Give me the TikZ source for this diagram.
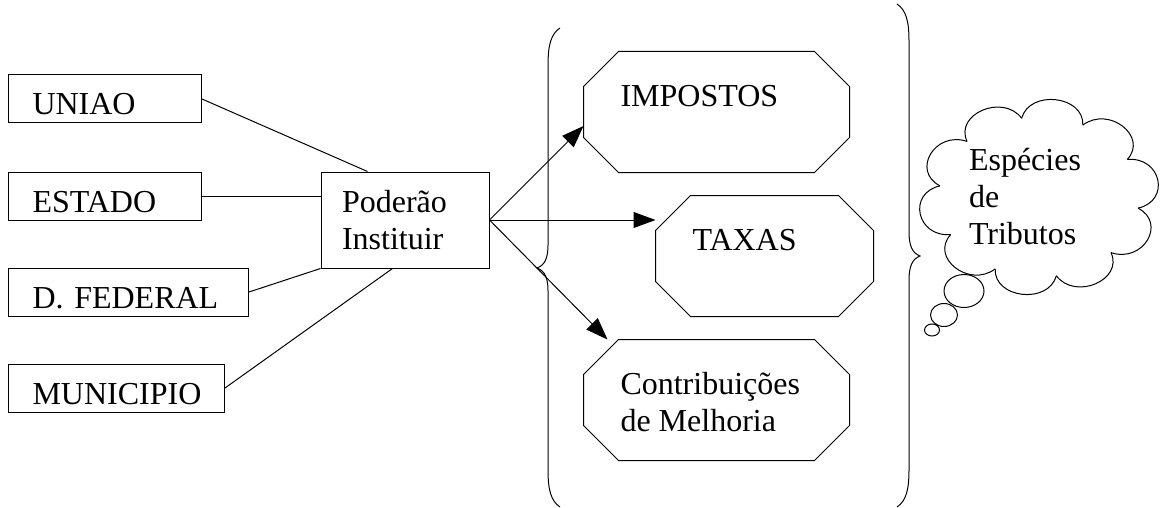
\documentclass[tikz,border=0pt]{standalone}
\usepackage{fontspec}
\setmainfont{Liberation Serif}
\usetikzlibrary{arrows.meta, positioning, calc}

\begin{document}
\begin{tikzpicture}[x=1pt, y=-1pt, line width=1pt, >={Triangle[length=22pt,width=16pt]}, font=\fontsize{32}{37}\selectfont]

%====Stili=====================================================================

	\tikzstyle{ente}=[draw, anchor=west, align=left, text height=32pt, text depth=0pt, inner xsep=24pt, inner ysep=0pt, minimum height=48pt]
  	\tikzstyle{specie}=[rectangle, minimum width=265pt, minimum height=120pt, inner sep=0pt]
  	\tikzstyle{testo}=[inner sep=0pt, align=left]

	\useasboundingbox (0,0) rectangle (1161,508);

%====Enti e potere============================================================
	\node[ente, text width=145pt] 	(uniao)  at (8,99)  	{UNIAO};
	\node[ente, text width=145pt] 	(estado) at (8,196) 	{ESTADO};
	\node[ente, text width=192pt] 	(dfed)   at (8,292) 	{D. FEDERAL};
	\node[ente, text width=168pt] 	(munic)  at (8,388) 	{MUNICIPIO};
	\node[draw, text width=126pt, align=left, minimum width=168pt, minimum height=96pt] (poder) at (405,220) {Poderão\\Instituir};

%====Specie di tributi (ottagoni)===============================================
	\node[specie] 					(imp) at (716.5,112) 	{};
	\node[specie, minimum width=217pt] (tax) at (764.5,256) {};
	\node[specie] 					(con) at (716.5,400) 	{};
	\foreach \n in {imp,tax,con}
		\draw ([xshift=35pt]\n.north west) -- ([xshift=-35pt]\n.north east) -- ([yshift=-35pt]\n.north east)
			-- ([yshift=35pt]\n.south east) -- ([xshift=-35pt]\n.south east) -- ([xshift=35pt]\n.south west)
			-- ([yshift=35pt]\n.south west) -- ([yshift=-35pt]\n.north west) -- cycle;
	\node[testo, anchor=base west] 	(timp) at (620,107) 	{IMPOSTOS};
	\node[testo, anchor=base west] 	(ttax) at (692,250) 	{TAXAS};
	\node[testo, anchor=north west] (tcon) at (620,372) 	{Contribuições\\de Melhoria};

%====Collegamenti==============================================================
	\draw (uniao.east) -- ([xshift=47pt]poder.north west);
	\draw (estado.east) -- (estado.east -| poder.west);
	\draw (dfed.east) -- (poder.south west);
	\draw (munic.east) -- ([xshift=72pt]poder.south west);

	\draw[->] (poder.east) -- ([yshift=-14pt]imp.west);
	\draw[->] (poder.east) -- (poder.east -| tax.west);
	\draw[->] (poder.east) -- ($(con.west |- con.north)+(24,0)$);

%====Parentesi graffe==========================================================
	\draw (560,28) .. controls (551,34) and (548,45) .. (548,65) -- (548,245)
		.. controls (548,258) and (545,265) .. (537,268)
		.. controls (545,271) and (548,278) .. (548,291) -- (548,470)
		.. controls (548,490) and (551,501) .. (560,507);
	\draw (897,4) .. controls (906,10) and (909,21) .. (909,41) -- (909,232)
		.. controls (909,245) and (912,253) .. (920,256)
		.. controls (912,259) and (909,267) .. (909,280) -- (909,470)
		.. controls (909,490) and (906,501) .. (897,507);

%====Nuvola=====================================================================
	\node[testo, text width=140pt] (nuvem) at (1039,197) {Espécies\\de\\Tributos};
	\foreach \a in {8,44,...,332}
		\draw ($(nuvem)+({100*cos(\a)},{80*sin(\a)})$)
			.. controls ($(nuvem)+({132*cos(\a+6)},{108*sin(\a+6)})$) and ($(nuvem)+({132*cos(\a+30)},{108*sin(\a+30)})$)
			.. ($(nuvem)+({100*cos(\a+36)},{80*sin(\a+36)})$);
	\draw (964,291) ellipse [x radius=20pt, y radius=16.5pt];
	\draw (944,315) ellipse [x radius=13.5pt, y radius=11.5pt];
	\draw (932,330) ellipse [x radius=7.5pt, y radius=6pt];
\end{tikzpicture}
\end{document}
